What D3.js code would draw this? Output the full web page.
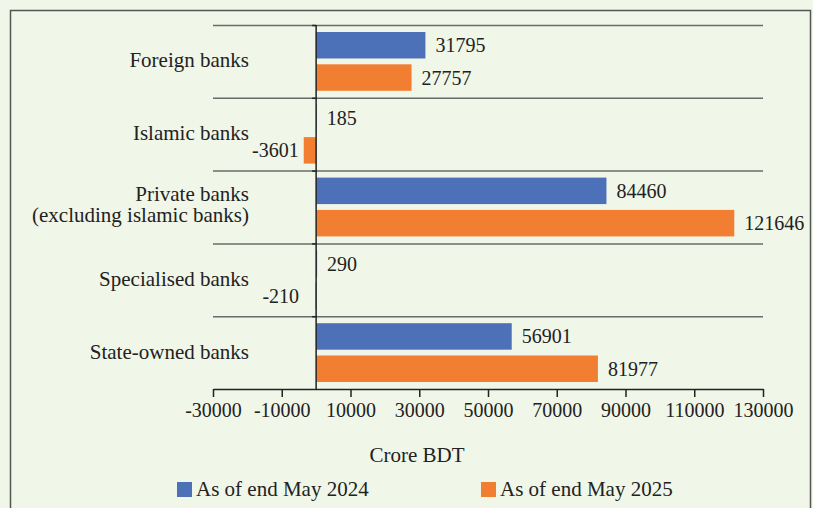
<!DOCTYPE html>
<html>
<head>
<meta charset="utf-8">
<script src="https://cdn.jsdelivr.net/npm/d3@7"></script>
<style>
  html, body { margin: 0; padding: 0; background: #f0f6e8; }
  svg { display: block; }
  text { font-family: "Liberation Serif", "DejaVu Serif", serif; fill: #222; }
</style>
</head>
<body>
<svg id="chart" width="813" height="508"></svg>
<script>
const categories = [
  ["Foreign banks"],
  ["Islamic banks"],
  ["Private banks", "(excluding islamic banks)"],
  ["Specialised banks"],
  ["State-owned banks"]
];
const seriesNames = ["As of end May 2024", "As of end May 2025"];
const values2024 = [31795, 185, 84460, 290, 56901];
const values2025 = [27757, -3601, 121646, -210, 81977];
const tickValues = [-30000, -10000, 10000, 30000, 50000, 70000, 90000, 110000, 130000];
const colors = ["#4d71b9", "#f27f31"];
const axisTitle = "Crore BDT";

const svg = d3.select("#chart");
svg.append("rect").attr("x", 0).attr("y", 0).attr("width", 813).attr("height", 508).attr("fill", "#f0f6e8");
svg.append("rect").attr("x", 10.5).attr("y", 10.5).attr("width", 800).attr("height", 520)
  .attr("fill", "none").attr("stroke", "#555").attr("stroke-width", 1.5);

const x = d3.scaleLinear().domain([-30000, 130000]).range([213, 763]);
const y = d3.scaleBand().domain(d3.range(categories.length)).range([25, 389]).padding(0);
const inner = d3.scaleBand().domain([0, 1]).range([7, y.bandwidth() - 7]).paddingInner(0.18);

const g = svg.append("g");
g.selectAll("line.sep").data(d3.range(categories.length)).join("line")
  .attr("class", "sep")
  .attr("x1", x.range()[0]).attr("x2", x.range()[1])
  .attr("y1", d => y(d) + 0.5).attr("y2", d => y(d) + 0.5)
  .attr("stroke", "#6b6b6b").attr("stroke-width", 1.5);

const data = [];
categories.forEach((c, i) => {
  data.push({ i, s: 0, v: values2024[i] });
  data.push({ i, s: 1, v: values2025[i] });
});
g.selectAll("rect.bar").data(data).join("rect")
  .attr("class", "bar")
  .attr("x", d => x(Math.min(0, d.v)))
  .attr("width", d => Math.abs(x(d.v) - x(0)))
  .attr("y", d => y(d.i) + inner(d.s))
  .attr("height", inner.bandwidth())
  .attr("fill", d => colors[d.s]);

g.selectAll("text.val").data(data).join("text")
  .attr("class", "val")
  .attr("x", d => d.v >= 0 ? x(d.v) + 10 : Math.min(x(d.v) - 5, x(0) - 17))
  .attr("y", d => y(d.i) + inner(d.s) + inner.bandwidth() / 2)
  .attr("dy", "0.35em")
  .attr("text-anchor", d => d.v >= 0 ? "start" : "end")
  .attr("font-size", 20)
  .text(d => d.v);

g.append("line").attr("x1", x(0)).attr("x2", x(0)).attr("y1", 25).attr("y2", 389)
  .attr("stroke", "#222").attr("stroke-width", 1.5);
g.selectAll("line.ytick").data(d3.range(categories.length)).join("line")
  .attr("class", "ytick")
  .attr("x1", x(0) - 4).attr("x2", x(0))
  .attr("y1", d => y(d) + 0.5).attr("y2", d => y(d) + 0.5)
  .attr("stroke", "#222").attr("stroke-width", 1.5);

const catLines = [];
categories.forEach((c, i) => c.forEach((t, j) => catLines.push({ i, j, n: c.length, t })));
g.selectAll("text.cat").data(catLines).join("text")
  .attr("class", "cat")
  .attr("text-anchor", "end")
  .attr("font-size", 21)
  .attr("x", 249)
  .attr("y", d => y(d.i) + y.bandwidth() / 2 + (d.n > 1 ? (d.j === 0 ? -6 : 15) : 6))
  .text(d => d.t);

const xAxis = d3.axisBottom(x).tickValues(tickValues).tickSize(8).tickSizeOuter(0)
  .tickFormat(d => String(d));
const ax = svg.append("g").attr("transform", "translate(0,389)").call(xAxis);
ax.select(".domain").attr("stroke", "#222").attr("stroke-width", 1.5);
ax.selectAll(".tick line").attr("stroke", "#222").attr("stroke-width", 1.5);
ax.selectAll(".tick text").attr("font-size", 20).attr("font-family", "Liberation Serif, serif")
  .attr("fill", "#222").attr("y", 14).attr("dy", "0.71em");

svg.append("text").attr("x", 417).attr("y", 462).attr("text-anchor", "middle")
  .attr("font-size", 21).text(axisTitle);

const legendX = [177, 481];
const lg = svg.selectAll("g.leg").data(seriesNames).join("g").attr("class", "leg")
  .attr("transform", (d, i) => `translate(${legendX[i]},482)`);
lg.append("rect").attr("width", 15).attr("height", 15).attr("fill", (d, i) => colors[i]);
lg.append("text").attr("x", 19).attr("y", 14).attr("font-size", 21).text(d => d);
</script>
</body>
</html>
